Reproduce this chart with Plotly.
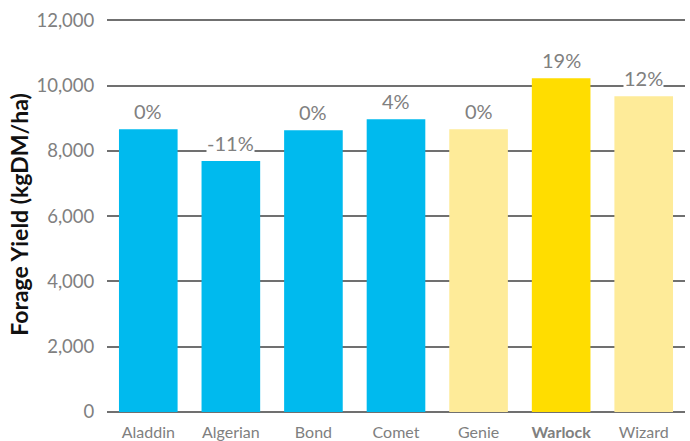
import plotly.graph_objects as go

categories = ["Aladdin", "Algerian", "Bond", "Comet", "Genie", "Warlock", "Wizard"]
tick_labels = ["Aladdin", "Algerian", "Bond", "Comet", "Genie", "<b>Warlock</b>", "Wizard"]
yields = [8660, 7690, 8630, 8970, 8660, 10220, 9670]
pct_labels = ["0%", "-11%", "0%", "4%", "0%", "19%", "12%"]
colors = ["#00BAEE", "#00BAEE", "#00BAEE", "#00BAEE", "#FEEB99", "#FFDD00", "#FEEB99"]

fig = go.Figure()
fig.add_trace(go.Bar(x=categories, y=yields, marker=dict(color=colors, line=dict(width=0)),
                     hoverinfo="skip"))

for c, v, t in zip(categories, yields, pct_labels):
    fig.add_annotation(x=c, y=v, text=t, showarrow=False, yanchor="bottom", yshift=5,
                       font=dict(family="Lato", size=20, color="#808080"),
                       bgcolor="white", borderpad=0)

fig.update_layout(
    width=690, height=441,
    margin=dict(l=107, r=5, t=17, b=29),
    paper_bgcolor="white", plot_bgcolor="white",
    bargap=0.29,
    showlegend=False,
    font=dict(family="Lato", color="#808080"),
)
fig.update_xaxes(tickvals=categories, ticktext=tick_labels, automargin=False,
                 tickfont=dict(family="Lato", size=16, color="#808080"),
                 showline=False, showgrid=False,
                 ticks="outside", ticklen=6, tickcolor="rgba(0,0,0,0)")
fig.update_yaxes(range=[0, 12100], tickvals=[0, 2000, 4000, 6000, 8000, 10000, 12000],
                 tickformat=",", automargin=False,
                 tickfont=dict(family="Lato", size=18.5, color="#808080"),
                 showgrid=True, gridcolor="#707070", gridwidth=1.5,
                 zeroline=True, zerolinecolor="#707070", zerolinewidth=1.5,
                 ticks="outside", ticklen=8, tickcolor="rgba(0,0,0,0)",
                 title=dict(text="<b>Forage Yield (kgDM/ha)</b>", standoff=1,
                            font=dict(family="Lato", size=23, color="#111111")))

fig.write_html("out.html", config={"displayModeBar": False},
               post_script="document.body.style.margin='0';")
